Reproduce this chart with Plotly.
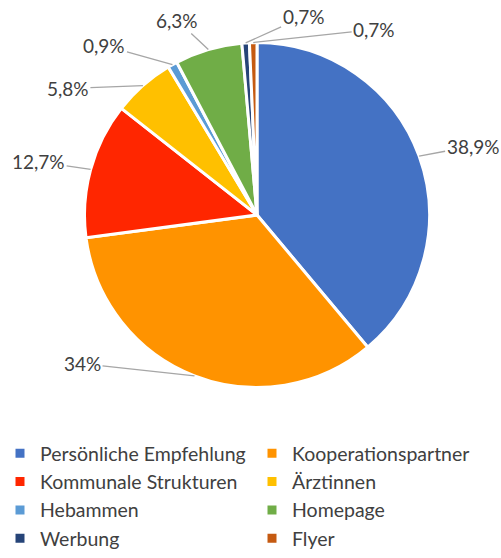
import math
import plotly.graph_objects as go

# Anteile der Zugangswege in Prozent
labels = ["Persönliche Empfehlung", "Kooperationspartner", "Kommunale Strukturen",
          "Ärztinnen", "Hebammen", "Homepage", "Werbung", "Flyer"]
values = [38.9, 34, 12.7, 5.8, 0.9, 6.3, 0.7, 0.7]
colors = ["#4472C4", "#FF9300", "#FF2600", "#FFC000", "#5B9BD5", "#70AD47", "#264478", "#C55A11"]

# Versatz der Beschriftungen (Pixel) gegenüber dem Rand des Segments
label_dx = [54, -112, -52, -75, -68, -31, 58, 121]
label_dy = [-10, -12, -8, 3, -19, -29, -26, -13]

W, H = 501, 558
CX, CY, R = 257, 215, 172.5

fig = go.Figure(go.Pie(
    labels=labels, values=values,
    textinfo="none",
    marker=dict(colors=colors, line=dict(color="white", width=3)),
    sort=False, direction="clockwise", rotation=0,
    domain=dict(x=[(CX - R) / W, (CX + R) / W], y=[1 - (CY + R) / H, 1 - (CY - R) / H]),
    hoverinfo="label+percent",
))

total = sum(values)
cum = 0
for v, dx, dy in zip(values, label_dx, label_dy):
    mid = (cum + v / 2) / total * 2 * math.pi
    cum += v
    px_ = CX + R * math.sin(mid)
    py_ = CY - R * math.cos(mid)
    fig.add_annotation(
        x=px_ / W, y=1 - py_ / H, xref="paper", yref="paper",
        text=f"{v:g}".replace(".", ",") + "%",
        showarrow=True, arrowhead=0, arrowwidth=1.3, arrowcolor="#A6A6A6",
        ax=dx, ay=dy, standoff=0,
        font=dict(size=19, color="#404040"),
    )

fig.update_layout(
    width=W, height=H,
    margin=dict(l=0, r=0, t=0, b=0),
    paper_bgcolor="white",
    font=dict(family="Lato, Calibri, sans-serif", color="#404040"),
    showlegend=True,
    legend=dict(orientation="h", x=0.055, y=0, xanchor="left", yanchor="bottom",
                entrywidth=207, entrywidthmode="pixels",
                font=dict(size=19.5, color="#404040")),
)

fig.write_html("out.html", config={"displayModeBar": False},
               post_script="document.body.style.margin='0';")
